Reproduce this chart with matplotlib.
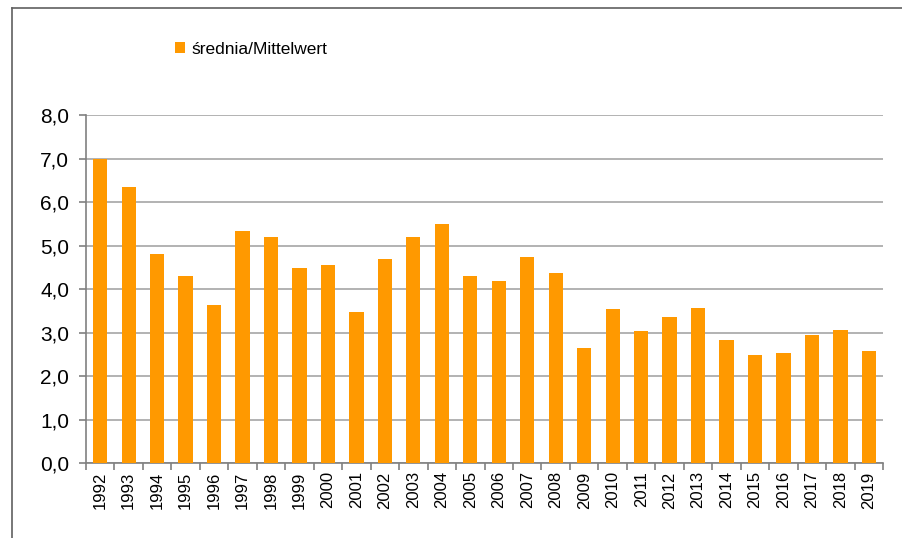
import matplotlib
matplotlib.use('Agg')
import matplotlib.pyplot as plt
from matplotlib.lines import Line2D
from matplotlib.patches import Patch
import numpy as np

plt.rcParams['font.family'] = ['Liberation Sans', 'DejaVu Sans']

# data
years = [str(y) for y in range(1992, 2020)]
mean_values = [7.0, 6.34, 4.81, 4.29, 3.63, 5.33, 5.19, 4.48, 4.55, 3.47,
               4.69, 5.19, 5.49, 4.31, 4.18, 4.74, 4.38, 2.64, 3.54, 3.03,
               3.35, 3.56, 2.84, 2.48, 2.53, 2.94, 3.05, 2.57]
y_ticks = [0, 1, 2, 3, 4, 5, 6, 7, 8]
y_tick_labels = ['0,0', '1,0', '2,0', '3,0', '4,0', '5,0', '6,0', '7,0', '8,0']
series_name = 'średnia/Mittelwert'

bar_color = '#FF9900'
grid_color = '#A6A6A6'
axis_color = '#808080'

fig = plt.figure(figsize=(9.03, 5.38), dpi=100)
ax = fig.add_axes([0.0952, 0.1394, 0.8828, 0.6466])

x = np.arange(len(years))
ax.bar(x, mean_values, width=0.5, color=bar_color, zorder=3)

ax.set_xlim(-0.5, len(years) - 0.5)
ax.set_ylim(0, 8)
ax.set_yticks(y_ticks)
ax.set_yticklabels(y_tick_labels, fontsize=15, color='black')
ax.yaxis.grid(True, color=grid_color, linewidth=1.2, zorder=0)

# category labels centred on bars, tick marks between categories
ax.set_xticks(x)
ax.set_xticklabels(years, rotation=90, fontsize=12)
ax.tick_params(axis='x', which='major', length=0, pad=6)
ax.set_xticks(np.arange(-0.5, len(years), 1), minor=True)
ax.tick_params(axis='x', which='minor', length=5, color=axis_color, width=1.2)
ax.tick_params(axis='y', length=5, color=axis_color, width=1.2, pad=7)

for side in ['top', 'right']:
    ax.spines[side].set_visible(False)
for side in ['left', 'bottom']:
    ax.spines[side].set_color(axis_color)
    ax.spines[side].set_linewidth(1.2)

# legend
handle = Patch(facecolor=bar_color, edgecolor='none')
fig.legend([handle], [series_name], loc='center left',
           bbox_to_anchor=(0.176, 0.908), frameon=False, fontsize=12.5,
           handlelength=0.6, handleheight=0.6, handletextpad=0.4)

# outer chart frame (left and top edges)
fig.add_artist(Line2D([12 / 903, 12 / 903], [0, 1 - 8 / 538],
                      transform=fig.transFigure, color='#606060', linewidth=1.2))
fig.add_artist(Line2D([12 / 903, 1], [1 - 8 / 538, 1 - 8 / 538],
                      transform=fig.transFigure, color='#606060', linewidth=1.2))

fig.savefig('out.png', dpi=100)
